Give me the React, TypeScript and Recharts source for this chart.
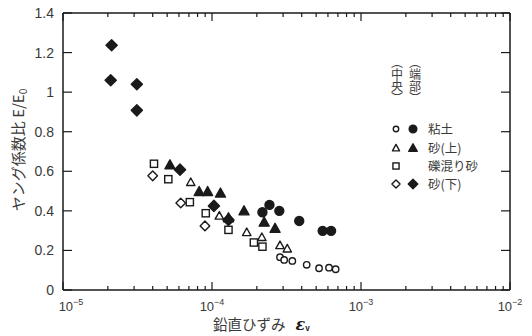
import { ScatterChart, Scatter, XAxis, YAxis } from "recharts";

// axis ticks
const DECADES = [1e-5, 1e-4, 1e-3, 1e-2];
const DECADE_EXP = ["−5", "−4", "−3", "−2"];
const MINOR_STEPS = [2, 3, 4, 5, 6, 7, 8, 9];
const Y_TICKS = [0, 0.2, 0.4, 0.6, 0.8, 1, 1.2, 1.4];

// 粘土 (中央 = open, 端部 = filled)
const clayCenterX = [2.86e-4, 3.05e-4, 3.46e-4, 4.32e-4, 5.23e-4, 6.1e-4, 6.76e-4];
const clayCenterY = [0.166, 0.152, 0.147, 0.127, 0.11, 0.113, 0.105];
const clayEdgeX = [2.43e-4, 2.18e-4, 2.83e-4, 3.85e-4, 5.53e-4, 6.3e-4];
const clayEdgeY = [0.43, 0.393, 0.4, 0.349, 0.299, 0.299];

// 砂(上)
const upperCenterX = [7.2e-5, 1.12e-4, 1.71e-4, 2.16e-4, 2.86e-4, 3.2e-4];
const upperCenterY = [0.545, 0.375, 0.292, 0.267, 0.226, 0.209];
const upperEdgeX = [5.22e-5, 8.2e-5, 9.35e-5, 1.14e-4, 1.29e-4, 1.64e-4, 2.24e-4, 2.65e-4];
const upperEdgeY = [0.633, 0.498, 0.498, 0.49, 0.365, 0.4, 0.343, 0.312];

// 礫混り砂
const gravelX = [4.08e-5, 5.09e-5, 7.1e-5, 9.08e-5, 1.29e-4, 1.91e-4, 2.18e-4];
const gravelY = [0.638, 0.56, 0.444, 0.388, 0.304, 0.24, 0.219];

// 砂(下)
const lowerCenterX = [4.0e-5, 6.17e-5, 8.97e-5];
const lowerCenterY = [0.577, 0.44, 0.324];
const lowerEdgeX = [2.12e-5, 2.09e-5, 3.13e-5, 3.13e-5, 6.1e-5, 1.03e-4, 1.29e-4];
const lowerEdgeY = [1.237, 1.06, 1.04, 0.908, 0.608, 0.425, 0.354];

const toPoints = (xs: number[], ys: number[]) => xs.map((x, i) => ({ x, y: ys[i] }));

const X_TICKS: number[] = [];
DECADES.forEach((d, i) => {
  X_TICKS.push(d);
  if (i < DECADES.length - 1) MINOR_STEPS.forEach((m) => X_TICKS.push(m * d));
});

const INK = "#1a1a1a";
const TEXT = "#3a3a3a";
const NUM_FONT = "'Liberation Sans', Arial, sans-serif";
const JP_FONT = "'Noto Sans CJK JP', sans-serif";

function decadeIndex(v: number) {
  return DECADES.findIndex((d) => Math.abs(d - v) / d < 1e-6);
}

function BottomTick(props: any) {
  const { x, y, payload } = props;
  const di = decadeIndex(payload.value);
  const major = di >= 0;
  return (
    <g>
      <line x1={x} x2={x} y1={y} y2={y - (major ? 8 : 4)} stroke={INK} strokeWidth={1.2} />
      {major && (
        <text x={x + (di === 0 ? 8 : 0)} y={y + 21} textAnchor="middle" fontFamily={NUM_FONT} fontSize={13} fill={TEXT}>
          10
          <tspan dy={-6} fontSize={9}>
            {DECADE_EXP[di]}
          </tspan>
        </text>
      )}
    </g>
  );
}

function TopTick(props: any) {
  const { x, y, payload } = props;
  const major = decadeIndex(payload.value) >= 0;
  return <line x1={x} x2={x} y1={y} y2={y + (major ? 8 : 4)} stroke={INK} strokeWidth={1.2} />;
}

function LeftTick(props: any) {
  const { x, y, payload } = props;
  return (
    <g>
      <line x1={x} x2={x + 9} y1={y} y2={y} stroke={INK} strokeWidth={1.2} />
      <text x={x - 9} y={y} dy={5} textAnchor="end" fontFamily={NUM_FONT} fontSize={14} fill={TEXT}>
        {String(Math.round(payload.value * 10) / 10)}
      </text>
    </g>
  );
}

function RightTick(props: any) {
  const { x, y } = props;
  return <line x1={x} x2={x - 9} y1={y} y2={y} stroke={INK} strokeWidth={1.2} />;
}

type Kind = "circle" | "triangle" | "square" | "diamond";

function Mark({ cx, cy, kind, filled, scale = 1 }: { cx: number; cy: number; kind: Kind; filled: boolean; scale?: number }) {
  const fill = filled ? INK : "#fff";
  const sw = 1.4;
  if (kind === "circle") {
    return <circle cx={cx} cy={cy} r={(filled ? 4.5 : 3.2) * scale} fill={fill} stroke={INK} strokeWidth={sw} />;
  }
  if (kind === "triangle") {
    const s = (filled ? 5 : 4.2) * scale;
    const pts = `${cx},${cy - s} ${cx + s},${cy + s * 0.8} ${cx - s},${cy + s * 0.8}`;
    return <polygon points={pts} fill={fill} stroke={INK} strokeWidth={sw} strokeLinejoin="round" />;
  }
  if (kind === "square") {
    const h = 3.6 * scale;
    return <rect x={cx - h} y={cy - h} width={h * 2} height={h * 2} fill={fill} stroke={INK} strokeWidth={sw} />;
  }
  const d = (filled ? 5.6 : 4.8) * scale;
  const pts = `${cx},${cy - d} ${cx + d},${cy} ${cx},${cy + d} ${cx - d},${cy}`;
  return <polygon points={pts} fill={fill} stroke={INK} strokeWidth={sw} strokeLinejoin="round" />;
}

const SERIES: { name: string; xs: number[]; ys: number[]; kind: Kind; filled: boolean }[] = [
  { name: "粘土 中央", xs: clayCenterX, ys: clayCenterY, kind: "circle", filled: false },
  { name: "粘土 端部", xs: clayEdgeX, ys: clayEdgeY, kind: "circle", filled: true },
  { name: "砂(上) 中央", xs: upperCenterX, ys: upperCenterY, kind: "triangle", filled: false },
  { name: "砂(上) 端部", xs: upperEdgeX, ys: upperEdgeY, kind: "triangle", filled: true },
  { name: "礫混り砂", xs: gravelX, ys: gravelY, kind: "square", filled: false },
  { name: "砂(下) 中央", xs: lowerCenterX, ys: lowerCenterY, kind: "diamond", filled: false },
  { name: "砂(下) 端部", xs: lowerEdgeX, ys: lowerEdgeY, kind: "diamond", filled: true },
];

const LEGEND_ROWS: { label: string; kind: Kind; open: boolean; solid: boolean; y: number }[] = [
  { label: "粘土", kind: "circle", open: true, solid: true, y: 129 },
  { label: "砂(上)", kind: "triangle", open: true, solid: true, y: 148 },
  { label: "礫混り砂", kind: "square", open: true, solid: false, y: 166 },
  { label: "砂(下)", kind: "diamond", open: true, solid: true, y: 184 },
];

// vertical column headings of the legend
const LEGEND_HEADS = [
  { text: "︵中央︶", x: 397 },
  { text: "︵端部︶", x: 415 },
];

export default function App() {
  return (
    <div style={{ position: "absolute", left: 0, top: 0, width: 532, height: 336, background: "#fff" }}>
      <ScatterChart width={532} height={336} margin={{ top: 0, right: 0, bottom: 0, left: 0 }}>
        <XAxis
          xAxisId="b"
          orientation="bottom"
          dataKey="x"
          type="number"
          scale="log"
          domain={[1e-5, 1e-2]}
          allowDataOverflow
          ticks={X_TICKS}
          interval={0}
          height={46}
          tickSize={0}
          tickMargin={0}
          tickLine={false}
          axisLine={{ stroke: INK, strokeWidth: 1.5 }}
          tick={<BottomTick />}
        />
        <XAxis
          xAxisId="t"
          orientation="top"
          dataKey="x"
          type="number"
          scale="log"
          domain={[1e-5, 1e-2]}
          allowDataOverflow
          ticks={X_TICKS}
          interval={0}
          height={13}
          tickSize={0}
          tickMargin={0}
          tickLine={false}
          axisLine={{ stroke: INK, strokeWidth: 1.5 }}
          tick={<TopTick />}
        />
        <YAxis
          yAxisId="l"
          orientation="left"
          dataKey="y"
          type="number"
          domain={[0, 1.4]}
          allowDataOverflow
          ticks={Y_TICKS}
          interval={0}
          width={63}
          tickSize={0}
          tickMargin={0}
          tickLine={false}
          axisLine={{ stroke: INK, strokeWidth: 1.5 }}
          tick={<LeftTick />}
        />
        <YAxis
          yAxisId="r"
          orientation="right"
          dataKey="y"
          type="number"
          domain={[0, 1.4]}
          allowDataOverflow
          ticks={Y_TICKS}
          interval={0}
          width={22}
          tickSize={0}
          tickMargin={0}
          tickLine={false}
          axisLine={{ stroke: INK, strokeWidth: 1.5 }}
          tick={<RightTick />}
        />
        {SERIES.map((s) => (
          <Scatter
            key={s.name}
            name={s.name}
            xAxisId="b"
            yAxisId="l"
            data={toPoints(s.xs, s.ys)}
            isAnimationActive={false}
            shape={(p: any) => <Mark cx={p.cx} cy={p.cy} kind={s.kind} filled={s.filled} />}
          />
        ))}
      </ScatterChart>

      <svg width={532} height={336} style={{ position: "absolute", left: 0, top: 0, pointerEvents: "none" }}>
        <text
          transform="translate(24,150) rotate(-90)"
          textAnchor="middle"
          fontFamily={JP_FONT}
          fontSize={15}
          fill={TEXT}
        >
          ヤング係数比 E/E
          <tspan fontSize={10} dy={3}>0</tspan>
        </text>
        <text x={213} y={330} fontFamily={JP_FONT} fontSize={14.5} fill={TEXT}>
          鉛直ひずみ
          <tspan dx={10} fontFamily="'DejaVu Serif', serif" fontStyle="italic" fontWeight="bold" fontSize={16} fill={INK}>
            ε
          </tspan>
          <tspan fontSize={8} dy={1} fill={INK} fontWeight="bold">v</tspan>
        </text>
        {LEGEND_HEADS.map((h) => (
          <text
            key={h.x}
            x={h.x}
            y={56}
            style={{ writingMode: "vertical-rl" }}
            fontFamily={JP_FONT}
            fontSize={12}
            fill={TEXT}
          >
            {h.text}
          </text>
        ))}
        {LEGEND_ROWS.map((r) => (
          <g key={r.label}>
            {r.open && <Mark cx={396} cy={r.y} kind={r.kind} filled={false} scale={0.85} />}
            {r.solid && <Mark cx={413} cy={r.y} kind={r.kind} filled scale={0.85} />}
            <text x={428} y={r.y + 5} fontFamily={JP_FONT} fontSize={12.5} fill={TEXT}>
              {r.label}
            </text>
          </g>
        ))}
      </svg>
    </div>
  );
}
